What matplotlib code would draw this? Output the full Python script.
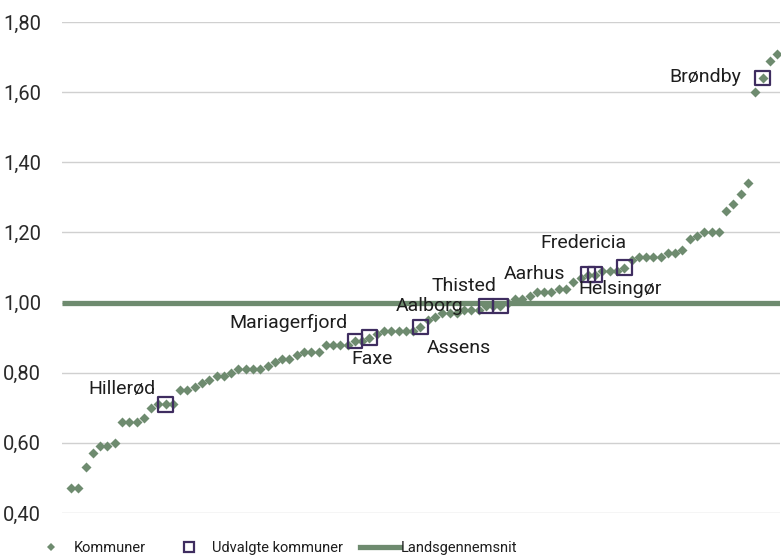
import matplotlib
matplotlib.use("Agg")
import matplotlib.pyplot as plt
from matplotlib.lines import Line2D
from matplotlib.ticker import FuncFormatter

plt.rcParams['font.family'] = ['Roboto', 'DejaVu Sans']

values = [0.47, 0.47, 0.53, 0.57, 0.59, 0.59, 0.60, 0.66, 0.66, 0.66,
          0.67, 0.70, 0.71, 0.71, 0.71, 0.75, 0.75, 0.76, 0.77, 0.78,
          0.79, 0.79, 0.80, 0.81, 0.81, 0.81, 0.81, 0.82, 0.83, 0.84,
          0.84, 0.85, 0.86, 0.86, 0.86, 0.88, 0.88, 0.88, 0.88, 0.89,
          0.89, 0.90, 0.91, 0.92, 0.92, 0.92, 0.92, 0.92, 0.93, 0.95,
          0.96, 0.97, 0.97, 0.97, 0.98, 0.98, 0.98, 0.99, 0.99, 0.99,
          1.00, 1.01, 1.01, 1.02, 1.03, 1.03, 1.03, 1.04, 1.04, 1.06,
          1.07, 1.08, 1.08, 1.09, 1.09, 1.09, 1.10, 1.12, 1.13, 1.13,
          1.13, 1.13, 1.14, 1.14, 1.15, 1.18, 1.19, 1.20, 1.20, 1.20,
          1.26, 1.28, 1.31, 1.34, 1.60, 1.64, 1.69, 1.71]

selected_names = ["Hillerød", "Mariagerfjord", "Faxe", "Aalborg", "Thisted",
                  "Assens", "Aarhus", "Helsingør", "Fredericia", "Brøndby"]
selected_rank = [14, 40, 42, 49, 58, 60, 72, 73, 77, 96]

national_avg = 1.00
yticks = [0.40, 0.60, 0.80, 1.00, 1.20, 1.40, 1.60, 1.80]

# label offsets in pixels (dx, dy) relative to marker
label_offsets = {
    "Hillerød": (-44, 15), "Mariagerfjord": (-66, 18), "Faxe": (3, -21),
    "Aalborg": (9, 21), "Thisted": (-22, 20), "Assens": (-42, -42),
    "Aarhus": (-53, 1), "Helsingør": (25, -14), "Fredericia": (-41, 25),
    "Brøndby": (-57, 1),
}

green = "#6e8b6f"
purple = "#3f2d60"
text_c = "#1e1e1e"
FS = 14

fig = plt.figure(figsize=(7.83, 5.57), dpi=100)
ax = fig.add_axes([62/783, 1-513/557, (780-62)/783, (513-22)/557])

x = list(range(1, len(values) + 1))
ax.axhline(national_avg, color=green, lw=3.8, zorder=2, solid_capstyle='butt')
ax.scatter(x, values, marker='D', s=26, color=green, linewidths=0, zorder=3)
sx = selected_rank
sy = [values[r - 1] for r in selected_rank]
ax.scatter(sx, sy, marker='s', s=110, facecolors='none', edgecolors=purple,
           linewidths=1.6, zorder=4)
for name, r in zip(selected_names, selected_rank):
    dx, dy = label_offsets[name]
    ax.annotate(name, (r, values[r - 1]), xytext=(dx, dy), textcoords='offset pixels',
                ha='center', va='center', fontsize=FS, color=text_c, zorder=5)

ax.set_xlim(-0.24, 98.4)
ax.set_ylim(0.40, 1.80)
ax.set_yticks(yticks)
ax.yaxis.set_major_formatter(FuncFormatter(lambda v, p: f"{v:.2f}".replace('.', ',')))
ax.set_xticks([])
ax.tick_params(axis='y', length=0, pad=15, labelsize=14.5, labelcolor="#2a2a2a")
for sp in ax.spines.values():
    sp.set_visible(False)
ax.grid(axis='y', color='#d0d0d0', lw=1)
ax.set_axisbelow(True)

h1 = Line2D([], [], marker='D', ls='none', color=green, markersize=4, markeredgewidth=0)
h2 = Line2D([], [], marker='s', ls='none', markerfacecolor='none', markeredgecolor=purple,
            markersize=7, markeredgewidth=1.6)
h3 = Line2D([], [], color=green, lw=3.8)
common = dict(frameon=False, fontsize=10.5, labelcolor=text_c, borderpad=0,
              borderaxespad=0, loc='center left')
yl = 1 - 548/557
fig.legend([h1], ["Kommuner"], bbox_to_anchor=(43.7/783, yl), handlelength=1.0,
           handletextpad=1.05, **common)
fig.legend([h2], ["Udvalgte kommuner"], bbox_to_anchor=(181.7/783, yl), handlelength=1.0,
           handletextpad=1.05, **common)
fig.legend([h3], ["Landsgennemsnit"], bbox_to_anchor=(360/783, yl), handlelength=2.75,
           handletextpad=0.05, **common)

fig.savefig("out.png", dpi=100)
